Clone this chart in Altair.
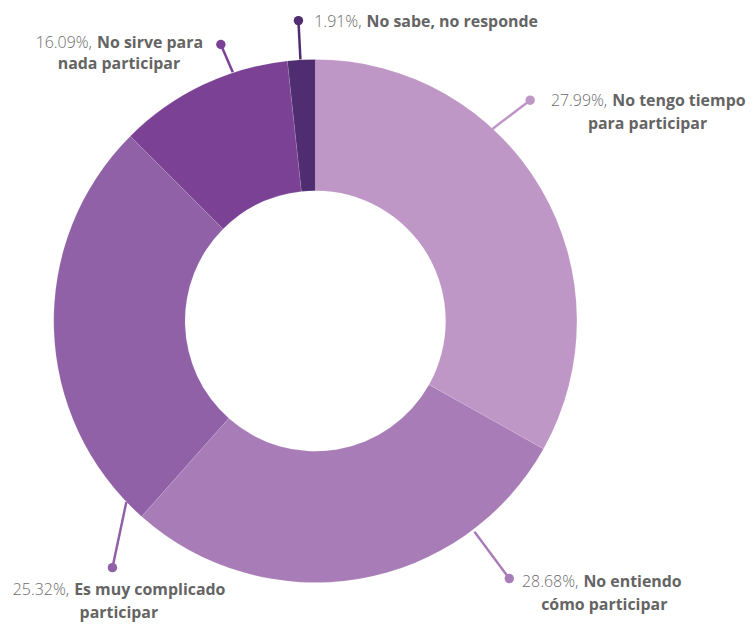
import math
import altair as alt
import pandas as pd

# ---- data ----
categories = [
    "No tengo tiempo para participar",
    "No entiendo cómo participar",
    "Es muy complicado participar",
    "No sirve para nada participar",
    "No sabe, no responde",
]
# percentages printed in the labels
label_pct = [27.99, 28.68, 25.32, 16.09, 1.91]
# share of the ring each slice actually covers in the picture
slice_share = [33.1, 28.4, 25.9, 10.8, 1.7]
name_line1 = ["No tengo tiempo", "No entiendo", "Es muy complicado", "No sirve para", "No sabe, no responde"]
name_line2 = ["para participar", "cómo participar", "participar", "nada participar", ""]
colors = ["#bf97c6", "#a87db7", "#9061a7", "#7a4195", "#4f2d70"]

# ---- label layout (pixels relative to donut centre, y downwards) ----
leader_start = [(178, -193), (160, 212), (-190, 182), (-83, -250), (-15, -263)]
leader_dot = [(216, -222), (195, 259), (-204, 248), (-95, -278), (-17, -302)]
text_split_x = [296, 267, -245, -222, 49]
text_line1_y = [-221, 262, 271, -279, -301]
text_line2 = [(334, -198), (290.5, 286), (-197.5, 294), (-197.5, -258), (0, 0)]

R_OUT, R_IN = 263, 131
W, H = 738, 613
CX, CY = 309, 313

slices = pd.DataFrame({"cat": categories, "share": slice_share, "idx": range(len(categories))})
labels = pd.DataFrame({
    "cat": categories,
    "pct": [f"{v:.2f}%," for v in label_pct],
    "n1": name_line1,
    "n2": name_line2,
    "sx": [p[0] for p in leader_start],
    "sy": [p[1] for p in leader_start],
    "dx_": [p[0] for p in leader_dot],
    "dy_": [p[1] for p in leader_dot],
    "tx": text_split_x,
    "ty": text_line1_y,
    "t2x": [p[0] for p in text_line2],
    "t2y": [p[1] for p in text_line2],
})

xs = alt.Scale(domain=[-CX, W - CX], range=[0, W])
ys = alt.Scale(domain=[-CY, H - CY], range=[0, H])
col = alt.Color("cat:N", scale=alt.Scale(domain=categories, range=colors), legend=None)

arcs = (
    alt.Chart(slices)
    .transform_joinaggregate(total="sum(share)")
    .transform_calculate(frac="datum.share / datum.total", cx="0", cy="0")
    .transform_window(cum="sum(frac)", sort=[alt.SortField("idx")])
    .transform_calculate(start="datum.cum - datum.frac")
    .mark_arc(radius=R_OUT, radius2=R_IN, stroke="#ffffff", strokeWidth=0.2, strokeOpacity=0.6)
    .encode(
        theta=alt.Theta("start:Q", scale=alt.Scale(domain=[0, 1], range=[0, 2 * math.pi]), stack=None),
        theta2="cum:Q",
        x=alt.X("cx:Q", scale=xs, axis=None),
        y=alt.Y("cy:Q", scale=ys, axis=None),
        color=col,
    )
)

base = alt.Chart(labels)
rules = base.mark_rule(strokeWidth=2.5).encode(
    x=alt.X("sx:Q", scale=xs, axis=None),
    y=alt.Y("sy:Q", scale=ys, axis=None),
    x2="dx_:Q",
    y2="dy_:Q",
    color=col,
)
dots = base.mark_circle(size=90, opacity=1).encode(
    x=alt.X("dx_:Q", scale=xs, axis=None),
    y=alt.Y("dy_:Q", scale=ys, axis=None),
    color=col,
)
FONT = "Open Sans"
FS = 16
pct = base.mark_text(align="right", baseline="middle", dx=-2.5, font=FONT, fontSize=FS,
                     fontWeight=300, color="#6b6b6b").encode(
    x=alt.X("tx:Q", scale=xs, axis=None),
    y=alt.Y("ty:Q", scale=ys, axis=None),
    text="pct:N",
)
n1 = base.mark_text(align="left", baseline="middle", dx=2.5, font=FONT, fontSize=FS,
                    fontWeight="bold", color="#646464").encode(
    x=alt.X("tx:Q", scale=xs, axis=None),
    y=alt.Y("ty:Q", scale=ys, axis=None),
    text="n1:N",
)
n2 = base.transform_filter("datum.n2 != ''").mark_text(
    align="center", baseline="middle", font=FONT, fontSize=FS,
    fontWeight="bold", color="#646464").encode(
    x=alt.X("t2x:Q", scale=xs, axis=None),
    y=alt.Y("t2y:Q", scale=ys, axis=None),
    text="n2:N",
)

chart = (
    alt.layer(arcs, rules, dots, pct, n1, n2)
    .properties(width=W, height=H, padding=0, background="#ffffff")
    .configure_view(stroke=None)
)
chart.save("out.html", embed_options={"renderer": "svg", "actions": False})
